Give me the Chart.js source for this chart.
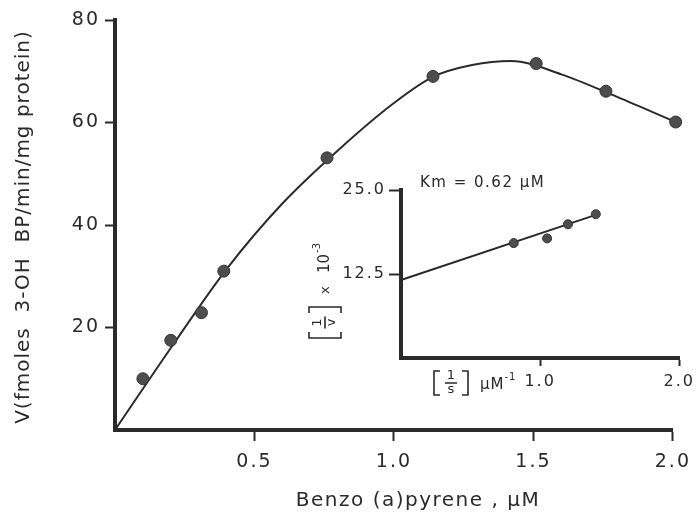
<!DOCTYPE html>
<html>
<head>
<meta charset="utf-8">
<script src="https://cdn.jsdelivr.net/npm/chart.js@4/dist/chart.umd.min.js"></script>
<style>
  html, body { margin: 0; padding: 0; background: #fff; }
  #wrap { position: relative; width: 698px; height: 514px; }
  #main { position: absolute; left: 0; top: 0; }
  #inset { position: absolute; left: 290px; top: 160px; }
</style>
</head>
<body>
<div id="wrap">
  <canvas id="main" width="698" height="514"></canvas>
  <canvas id="inset" width="408" height="260"></canvas>
</div>
<script>
// main plot: rate vs benzo(a)pyrene concentration
const conc = [0.10, 0.20, 0.31, 0.39, 0.76, 1.14, 1.51, 1.76, 2.01];
const rate = [10.0, 17.5, 22.9, 31.0, 53.1, 69.0, 71.5, 66.1, 60.1];
// hand-drawn curve through the data
const curveX = [0, 0.20, 0.40, 0.60, 0.80, 1.00, 1.14, 1.28, 1.42, 1.60, 1.80, 2.01];
const curveY = [0, 16.0, 31.4, 44.2, 54.6, 63.8, 68.9, 71.2, 72.0, 69.4, 65.0, 60.1];
const xTicks = [0.5, 1.0, 1.5, 2.0];
const yTicks = [20, 40, 60, 80];

// inset: double reciprocal plot
const invS = [0.81, 1.05, 1.20, 1.40];
const invV = [17.1, 17.8, 19.9, 21.4];
const fitX = [0, 1.40];
const fitY = [11.6, 21.3];
const insetXTicks = [1.0, 2.0];
const insetYTicks = [12.5, 25.0];

const xTitle = 'Benzo (a)pyrene , µM';
const yTitle = 'V(fmoles  3-OH  BP/min/mg protein)';
const kmLabel = 'Km = 0.62 µM';

const ink = '#2a2a2a';
const FONT = '"DejaVu Sans", sans-serif';
Chart.defaults.font.family = FONT;
Chart.defaults.color = ink;

const toPts = (xs, ys) => xs.map((x, i) => ({x: x, y: ys[i]}));

// wide letter spacing like the old stencil lettering
const spacing = {
  id: 'spacing',
  beforeDraw(chart) { chart.ctx.letterSpacing = '2px'; },
  afterDraw(chart) { chart.ctx.letterSpacing = '0px'; }
};

function axis(min, max, ticks, decimals, size, tickLen, pad, fit) {
  return {
    type: 'linear', min: min, max: max,
    afterBuildTicks: s => { s.ticks = ticks.map(v => ({value: v})); },
    afterFit: fit,
    border: {color: ink, width: 4},
    grid: {drawOnChartArea: false, drawTicks: true, tickLength: tickLen, tickWidth: 2, color: ink},
    ticks: {padding: pad, font: {size: size}, color: ink, maxRotation: 0, autoSkip: false,
            callback: v => v.toFixed(decimals)}
  };
}

const mainTitles = {
  id: 'mainTitles',
  afterDraw(chart) {
    const ctx = chart.ctx;
    ctx.save();
    ctx.fillStyle = ink;
    ctx.letterSpacing = '1.5px';
    ctx.font = '20px ' + FONT;
    ctx.textAlign = 'center';
    ctx.textBaseline = 'middle';
    ctx.fillText(xTitle, 418, 501);
    ctx.translate(24, 227);
    ctx.rotate(-Math.PI / 2);
    ctx.letterSpacing = '1px';
    ctx.fillText(yTitle, 0, 0);
    ctx.restore();
  }
};

new Chart(document.getElementById('main'), {
  type: 'scatter',
  data: {
    datasets: [
      {
        data: toPts(conc, rate),
        pointRadius: 6,
        pointBackgroundColor: '#4d4d4d',
        pointBorderColor: '#333',
        pointBorderWidth: 1,
        showLine: false,
        clip: false
      },
      {
        data: toPts(curveX, curveY),
        showLine: true,
        pointRadius: 0,
        borderColor: ink,
        borderWidth: 2,
        cubicInterpolationMode: 'monotone',
        clip: false
      }
    ]
  },
  options: {
    responsive: false,
    animation: false,
    layout: {padding: {left: 0, right: 18, top: 20, bottom: 0}},
    plugins: {legend: {display: false}, tooltip: {enabled: false}},
    scales: {
      x: axis(0, 2.0, xTicks, 1, 19, 11, 10, s => { s.height = 84; }),
      y: axis(0, 80, yTicks, 0, 19, 10, 5, s => { s.width = 115; })
    }
  },
  plugins: [spacing, mainTitles]
});

// [ num / den ] drawn as bracket strokes with a small stacked fraction
function bracketFraction(ctx, x, cy, len, half, num, den) {
  const arm = 6;
  ctx.lineWidth = 1.6;
  ctx.beginPath();
  ctx.moveTo(x + arm, cy - half); ctx.lineTo(x, cy - half); ctx.lineTo(x, cy + half); ctx.lineTo(x + arm, cy + half);
  ctx.moveTo(x + len - arm, cy - half); ctx.lineTo(x + len, cy - half);
  ctx.lineTo(x + len, cy + half); ctx.lineTo(x + len - arm, cy + half);
  ctx.moveTo(x + len / 2 - 6, cy); ctx.lineTo(x + len / 2 + 6, cy);
  ctx.stroke();
  ctx.font = '13px ' + FONT;
  ctx.textAlign = 'center';
  ctx.textBaseline = 'middle';
  ctx.fillText(num, x + len / 2, cy - 7);
  ctx.fillText(den, x + len / 2, cy + 7);
  return x + len;
}

const insetLabels = {
  id: 'insetLabels',
  afterDraw(chart) {
    const ctx = chart.ctx;
    ctx.save();
    ctx.fillStyle = ink;
    ctx.strokeStyle = ink;
    ctx.letterSpacing = '1.5px';
    ctx.textBaseline = 'middle';
    ctx.textAlign = 'left';
    ctx.font = '15px ' + FONT;
    ctx.fillText(kmLabel, 130, 23);

    // x label: [1/s] µM^-1
    ctx.letterSpacing = '0px';
    let x = bracketFraction(ctx, 144, 223, 34, 12, '1', 's');
    ctx.textAlign = 'left';
    ctx.font = '15px ' + FONT;
    ctx.letterSpacing = '1px';
    ctx.fillText('µM', x + 12, 225);
    const w = ctx.measureText('µM').width;
    ctx.font = '10px ' + FONT;
    ctx.fillText('-1', x + 12 + w, 217);

    // y label: [1/v] x 10^-3, rotated
    ctx.letterSpacing = '0px';
    ctx.translate(35, 178);
    ctx.rotate(-Math.PI / 2);
    x = bracketFraction(ctx, 0, 0, 31, 16, '1', 'v');
    ctx.textAlign = 'left';
    ctx.font = '13px ' + FONT;
    ctx.fillText('x', x + 13, 1);
    ctx.font = '15px ' + FONT;
    ctx.fillText('10', x + 34, 0);
    const w2 = ctx.measureText('10').width;
    ctx.font = '10px ' + FONT;
    ctx.fillText('-3', x + 35 + w2, -8);
    ctx.restore();
  }
};

new Chart(document.getElementById('inset'), {
  type: 'scatter',
  data: {
    datasets: [
      {
        data: toPts(invS, invV),
        pointRadius: 4.5,
        pointBackgroundColor: '#4d4d4d',
        pointBorderColor: '#333',
        pointBorderWidth: 1,
        showLine: false,
        clip: false
      },
      {
        data: toPts(fitX, fitY),
        showLine: true,
        pointRadius: 0,
        borderColor: ink,
        borderWidth: 2,
        clip: false
      }
    ]
  },
  options: {
    responsive: false,
    animation: false,
    layout: {padding: {left: 0, right: 18, top: 30, bottom: 0}},
    plugins: {legend: {display: false}, tooltip: {enabled: false}},
    scales: {
      x: axis(0, 2.0, insetXTicks, 1, 16, 8, 6, s => { s.height = 62; }),
      y: axis(0, 25, insetYTicks, 1, 16, 12, 3, s => { s.width = 111; })
    }
  },
  plugins: [spacing, insetLabels]
});
</script>
</body>
</html>
